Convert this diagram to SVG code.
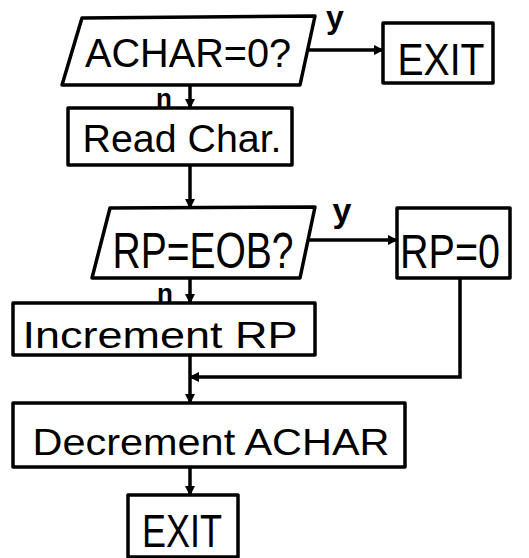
<svg xmlns="http://www.w3.org/2000/svg" width="529" height="558" viewBox="0 0 529 558">
<style>
.box{fill:#fff;stroke:#000;stroke-width:3.5;stroke-linejoin:round}
.ln{fill:none;stroke:#000;stroke-width:3.5}
text{font-family:"Liberation Sans","DejaVu Sans",sans-serif;fill:#000;text-anchor:middle}
</style>
<defs>
<marker id="ah" viewBox="0 0 10 10" refX="9" refY="5" markerWidth="3" markerHeight="3" orient="auto" markerUnits="strokeWidth">
<path d="M0,0 L10,5 L0,10 z" fill="#000"/>
</marker>
</defs>
<rect width="529" height="558" fill="#fff"/>
<g id="connectors">
<line class="ln" x1="307" y1="50" x2="383" y2="50" marker-end="url(#ah)"/>
<line class="ln" x1="190" y1="85" x2="190" y2="108" marker-end="url(#ah)"/>
<line class="ln" x1="190" y1="165" x2="190" y2="208" marker-end="url(#ah)"/>
<line class="ln" x1="300" y1="240" x2="397" y2="240" marker-end="url(#ah)"/>
<line class="ln" x1="190" y1="278" x2="190" y2="303" marker-end="url(#ah)"/>
<line class="ln" x1="190" y1="355" x2="190" y2="403" marker-end="url(#ah)"/>
<polyline class="ln" points="460,278 460,377 190,377" marker-end="url(#ah)"/>
<line class="ln" x1="190" y1="467" x2="190" y2="495" marker-end="url(#ah)"/>
<text x="335" y="28" font-size="32" font-weight="bold">y</text>
<text x="164" y="107" font-size="26" font-weight="bold">n</text>
<text x="342" y="222" font-size="34" font-weight="bold">y</text>
<text x="165" y="302" font-size="26" font-weight="bold">n</text>
</g>
<g id="n1">
<polygon class="box" points="82,18 315,16 300,85 62,85"/>
<text x="188" y="67" font-size="40" textLength="206" lengthAdjust="spacingAndGlyphs">ACHAR=0?</text>
</g>
<g id="n2">
<rect class="box" x="383" y="23" width="110" height="60"/>
<text x="441" y="75" font-size="44" textLength="87" lengthAdjust="spacingAndGlyphs">EXIT</text>
</g>
<g id="n3">
<rect class="box" x="68" y="108" width="224" height="57"/>
<text x="182" y="152" font-size="38" textLength="199" lengthAdjust="spacingAndGlyphs">Read Char.</text>
</g>
<g id="n4">
<polygon class="box" points="110,208 315,207 300,278 92,278"/>
<text x="203" y="268" font-size="50" textLength="181" lengthAdjust="spacingAndGlyphs">RP=EOB?</text>
</g>
<g id="n5">
<rect class="box" x="397" y="208" width="113" height="70"/>
<text x="450" y="268" font-size="48" textLength="100" lengthAdjust="spacingAndGlyphs">RP=0</text>
</g>
<g id="n6">
<rect class="box" x="13" y="303" width="302" height="52"/>
<text x="160" y="348" font-size="37" textLength="275" lengthAdjust="spacingAndGlyphs">Increment RP</text>
</g>
<g id="n7">
<rect class="box" x="13" y="403" width="392" height="64"/>
<text x="211" y="455" font-size="36" textLength="357" lengthAdjust="spacingAndGlyphs">Decrement ACHAR</text>
</g>
<g id="n8">
<rect class="box" x="128" y="495" width="110" height="62"/>
<text x="182" y="547" font-size="47" textLength="80" lengthAdjust="spacingAndGlyphs">EXIT</text>
</g>
</svg>
